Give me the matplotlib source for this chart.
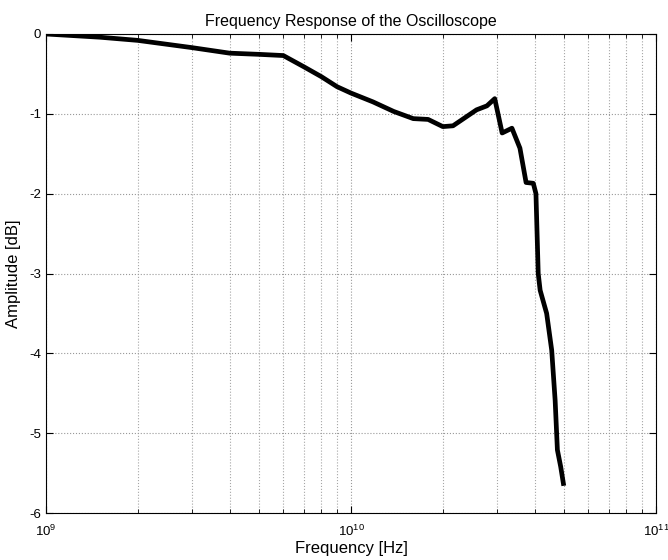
import matplotlib
matplotlib.use("Agg")
import matplotlib.pyplot as plt
from matplotlib.ticker import FixedLocator, LogLocator, NullFormatter

plt.rcParams["font.family"] = ["Liberation Sans", "DejaVu Sans"]
plt.rcParams["mathtext.default"] = "regular"
plt.rcParams["axes.unicode_minus"] = False

# frequency [Hz] and amplitude [dB]
freq = [1.0e9, 1.5e9, 2.0e9, 3.0e9, 4.0e9, 5.0e9, 6.0e9, 7.0e9, 8.0e9, 9.0e9,
        1.0e10, 1.18e10, 1.38e10, 1.6e10, 1.79e10, 2.0e10, 2.16e10, 2.58e10,
        2.79e10, 2.96e10, 3.13e10, 3.37e10, 3.58e10, 3.75e10, 3.96e10, 4.04e10,
        4.11e10, 4.17e10, 4.38e10, 4.55e10, 4.67e10, 4.75e10, 4.87e10, 4.97e10]
amp = [0.0, -0.04, -0.08, -0.17, -0.24, -0.255, -0.27, -0.41, -0.535, -0.66,
       -0.74, -0.85, -0.97, -1.06, -1.07, -1.16, -1.15, -0.95,
       -0.90, -0.81, -1.24, -1.18, -1.43, -1.86, -1.87, -2.0,
       -3.0, -3.21, -3.5, -3.96, -4.59, -5.21, -5.42, -5.63]

y_ticks = [0, -1, -2, -3, -4, -5, -6]

fig = plt.figure(figsize=(6.68, 5.6), dpi=100)
ax = fig.add_axes([46 / 668, 1 - 513 / 560, 610 / 668, 479 / 560])

ax.semilogx(freq, amp, color="black", linewidth=3.4, solid_joinstyle="round")

ax.set_xlim(1e9, 1e11)
ax.set_ylim(-6, 0)
ax.yaxis.set_major_locator(FixedLocator(y_ticks))
ax.xaxis.set_minor_locator(LogLocator(base=10, subs=range(2, 10)))
ax.xaxis.set_minor_formatter(NullFormatter())

ax.grid(True, which="major", linestyle=":", color="0.6", linewidth=0.8)
ax.grid(True, which="minor", axis="x", linestyle=":", color="0.65", linewidth=0.8)
ax.tick_params(which="both", direction="in", top=True, right=True, labelsize=9.5)
ax.tick_params(which="major", length=5)
ax.tick_params(which="minor", length=3)
ax.tick_params(axis="x", which="major", pad=8)

ax.set_title("Frequency Response of the Oscilloscope", fontsize=11.5)
ax.set_xlabel("Frequency [Hz]", fontsize=12, labelpad=1)
ax.set_ylabel("Amplitude [dB]", fontsize=12, labelpad=6)

fig.savefig("out.png", dpi=100)
